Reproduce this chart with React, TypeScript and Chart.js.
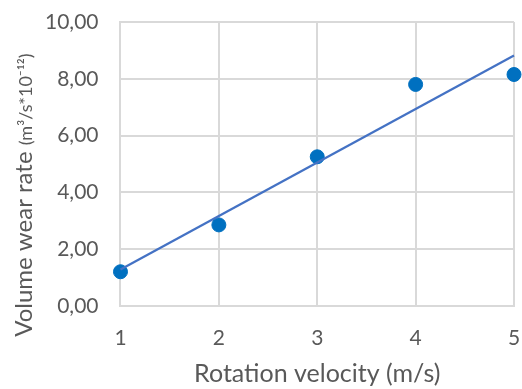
import React, { useEffect, useRef } from "react";
import { Chart, registerables } from "chart.js";

Chart.register(...registerables);

const velocities = [1, 2, 3, 4, 5];
const wearRate = [1.2, 2.85, 5.25, 7.8, 8.15];
const trendX = [1, 5];
const trendY = [1.28, 8.82];
const yTicks = [0, 2, 4, 6, 8, 10];

const FONT = "Lato, 'Open Sans', sans-serif";
const TEXT = "#595959";
const GRID = "#D9D9D9";

const yTitlePlugin = {
  id: "yTitle",
  afterDraw(chart: any) {
    const { ctx, chartArea } = chart;
    const main = "Volume wear rate ";
    const sub = "(m³/s*10⁻¹²)";
    ctx.save();
    ctx.translate(23, chartArea.bottom + 31);
    ctx.rotate(-Math.PI / 2);
    ctx.fillStyle = TEXT;
    ctx.textBaseline = "alphabetic";
    ctx.textAlign = "left";
    ctx.font = `24px ${FONT}`;
    ctx.fillText(main, 0, 9);
    const w1 = ctx.measureText(main).width;
    ctx.font = `18px ${FONT}`;
    ctx.fillText(sub, w1, 9);
    ctx.restore();
  },
};

export default function App() {
  const ref = useRef<HTMLCanvasElement>(null);
  useEffect(() => {
    document.body.style.margin = "0";
    const chart = new Chart(ref.current!, {
      type: "scatter",
      data: {
        datasets: [
          {
            type: "line",
            label: "Trend",
            data: trendX.map((x, i) => ({ x, y: trendY[i] })),
            borderColor: "#4472C4",
            borderWidth: 2.25,
            pointRadius: 0,
            showLine: true,
            fill: false,
            order: 0,
            clip: false as any,
          },
          {
            label: "Volume wear rate",
            data: velocities.map((x, i) => ({ x, y: wearRate[i] })),
            backgroundColor: "#0070C0",
            borderColor: "#0070C0",
            pointRadius: 7,
            order: 1,
            clip: false as any,
          },
        ],
      },
      options: {
        animation: false,
        responsive: false,
        layout: { padding: { left: 23, top: 22, bottom: 0, right: 0 } },
        plugins: { legend: { display: false }, tooltip: { enabled: false } },
        scales: {
          x: {
            type: "linear",
            min: 1,
            max: 5,
            ticks: {
              stepSize: 1,
              padding: 20,
              color: TEXT,
              font: { family: FONT, size: 21 },
            },
            grid: { color: GRID, lineWidth: 2, drawTicks: false },
            border: { color: GRID, width: 2 },
            title: {
              display: true,
              text: "Rotation velocity (m/s)",
              color: TEXT,
              font: { family: FONT, size: 25 },
              padding: { top: -12, bottom: 0 },
            },
            afterFit: (scale: any) => {
              scale.paddingRight = 6;
              scale.paddingLeft = 0;
            },
          },
          y: {
            min: 0,
            max: 10,
            afterBuildTicks: (scale: any) => {
              scale.ticks = yTicks.map((v) => ({ value: v }));
            },
            afterFit: (scale: any) => {
              scale.paddingTop = 0;
              scale.paddingBottom = 0;
            },
            ticks: {
              padding: 22,
              color: TEXT,
              font: { family: FONT, size: 21 },
              callback: (v: any) => Number(v).toFixed(2).replace(".", ","),
            },
            grid: { color: GRID, lineWidth: 2, drawTicks: false },
            border: { color: GRID, width: 2 },
          },
        },
      },
      plugins: [yTitlePlugin],
    });
    return () => chart.destroy();
  }, []);
  return (
    <div style={{ width: 522, height: 389 }}>
      <canvas ref={ref} width={522} height={389} />
    </div>
  );
}
